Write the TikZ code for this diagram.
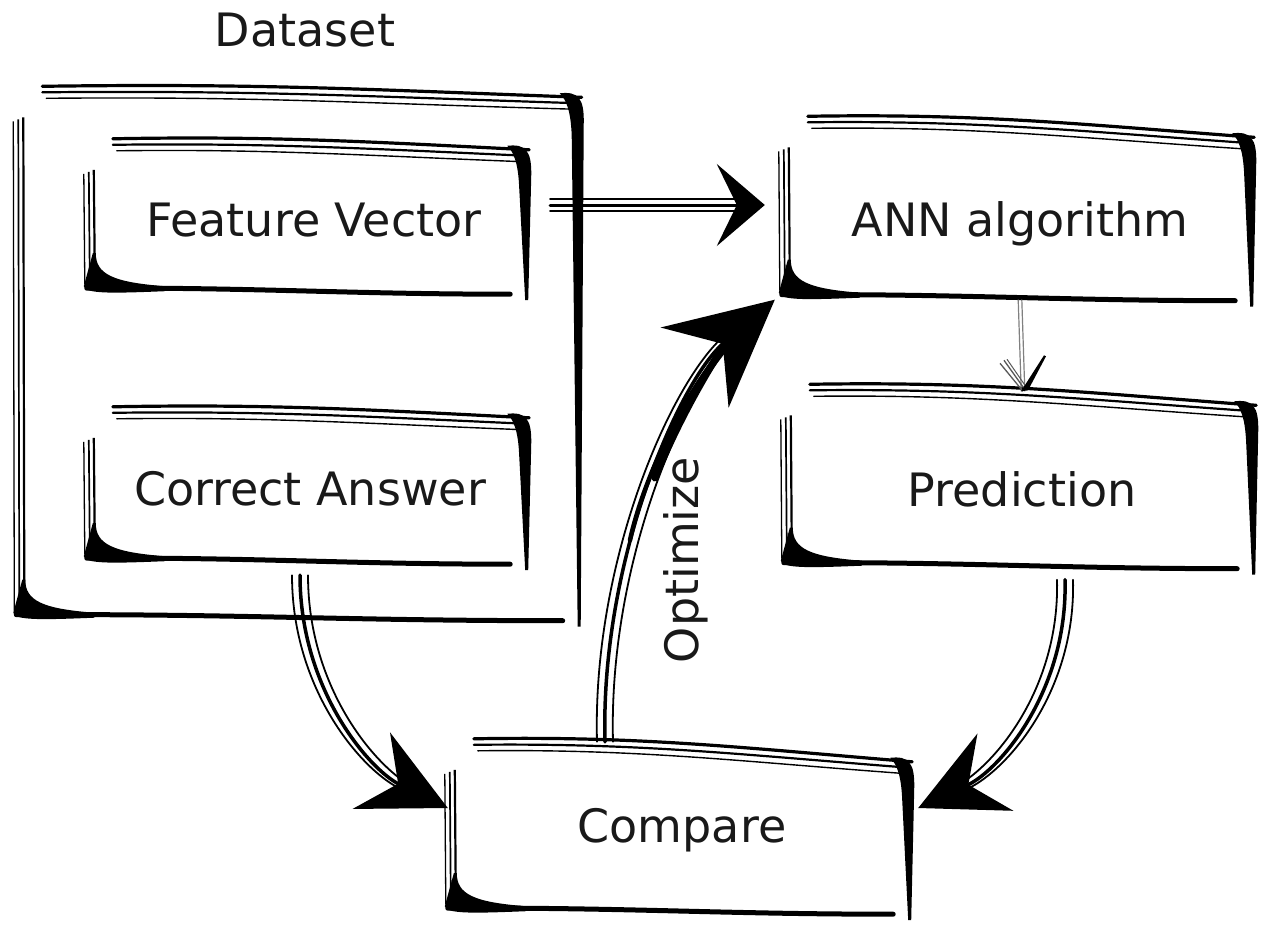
\documentclass[tikz,border=0pt]{standalone}
\usepackage{fontspec}
\setmainfont{DejaVu Sans}
\usetikzlibrary{arrows.meta,calc}

% #1 node name, #2 extra drop of the top strokes at the right end
\newcommand\skbox[2]{%
  % top strokes
  \draw[line width=3.2pt,line cap=round] ($(#1.north west)+(18,-13)$) .. controls ($(#1.north)+(-40,-16)$) and ($(#1.north)+(60,-12+#2/2)$) .. ($(#1.north east)+(4,-6+#2)$);
  \draw[line width=2.2pt,line cap=round] ($(#1.north west)+(18,-7)$) .. controls ($(#1.north)+(-40,-9)$) and ($(#1.north)+(60,-5+#2/2)$) .. ($(#1.north east)+(2,0+#2)$);
  \draw[line width=1.4pt,line cap=round] ($(#1.north west)+(22,-1)$) .. controls ($(#1.north)+(-40,-3)$) and ($(#1.north)+(60,2+#2/2)$) .. ($(#1.north east)+(0,6+#2)$);
  % left strokes
  \draw[line width=1.3pt] ($(#1.north west)+(-11,22)$) -- ($(#1.south west)+(-10,-4)$);
  \draw[line width=1.7pt] ($(#1.north west)+(-6,20)$) -- ($(#1.south west)+(-5,-8)$);
  \draw[line width=2.2pt] ($(#1.north west)+(-1,18)$) -- ($(#1.south west)+(0,-12)$);
  % bottom-left flare
  \fill ($(#1.south west)+(-2,-35)$) -- ($(#1.south west)+(1,-35)$) .. controls ($(#1.south west)+(1,-14)$) and ($(#1.south west)+(18,-6)$) .. ($(#1.south west)+(70,-2)$) -- ($(#1.south west)+(70,3)$) .. controls ($(#1.south west)+(20,5)$) and ($(#1.south west)+(-10,6)$) .. ($(#1.south west)+(-11,-2)$) -- cycle;
  % bottom thick
  \draw[line width=5pt,line cap=round] ($(#1.south west)+(-8,0)$) .. controls ($(#1.south)+(-60,-1)$) and ($(#1.south)+(40,6)$) .. ($(#1.south east)+(-15,6)$);
  % right taper
  \fill ($(#1.north east)+(-18,-10+#2)$) .. controls ($(#1.north east)+(0,-12+#2)$) and ($(#1.north east)+(7,-6+#2)$) .. ($(#1.north east)+(6,22+#2)$) -- ($(#1.south east)+(3,12)$) -- ($(#1.south east)+(0,12)$) -- ($(#1.north east)+(-6,32+#2)$) .. controls ($(#1.north east)+(-7,8+#2)$) and ($(#1.north east)+(-11,-3+#2)$) .. cycle;
}

\begin{document}
\begin{tikzpicture}[x=1pt,y=-1pt,
  lbl/.style={font=\fontsize{46}{55}\selectfont, text=black!90},
  boxnode/.style={lbl, inner sep=0pt},
  shaft/.style={line width=2.2pt, line cap=round},
  bigtip/.style={-{Stealth[length=#1,width=#1,inset=0.35*#1]}},
]
\useasboundingbox (0,0) rectangle (1274,924);
\fill[white] (0,0) rectangle (1274,924);

% nodes
\node[boxnode, minimum width=553pt, minimum height=515pt] (ds) at (301,357) {};
\node[lbl] (dsl) at (305,30) {Dataset};
\node[boxnode, minimum width=430pt, minimum height=136pt] (fv) at (310,220) {\hspace*{8pt}Feature Vector};
\node[boxnode, minimum width=430pt, minimum height=138pt] (ca) at (310,489) {Correct Answer};
\node[boxnode, minimum width=460pt, minimum height=165pt, text height=48pt, text depth=0pt] (ann) at (1020,212) {ANN algorithm};
\node[boxnode, minimum width=460pt, minimum height=165pt, text height=52pt, text depth=0pt] (pred) at (1022,480) {Prediction};
\node[boxnode, minimum width=452pt, minimum height=156pt] (cmp) at (682,830) {Compare};
\node[lbl, rotate=90] (opt) at (686,560) {Optimize};

% sketchy boxes
\skbox{ds}{4}
\skbox{fv}{4}
\skbox{ca}{4}
\skbox{ann}{14}
\skbox{pred}{14}
\skbox{cmp}{16}

% Feature Vector -> ANN
\foreach \s in {-6,6}
  \draw[shaft, line width=2.2pt, transform canvas={yshift=\s pt}, shorten >=30pt]
    ($(fv.east)+(25,-15)$) -- ($(ann.west)+(-25,-7)$);
\draw[shaft, line width=3pt, -{Stealth[length=48pt,width=82pt,inset=20pt]}] ($(fv.east)+(25,-15)$) -- ($(ann.west)+(-25,-7)$);

% ANN -> Prediction
\coordinate (pt) at ($(pred.north)+(1,-6)$);
\foreach \s in {-1.8,1.8}
  \draw[gray, line width=1.2pt, transform canvas={xshift=\s pt}] ($(ann.south)+(0,5)$) -- (pt);
\draw[gray!70!black, line width=1.3pt] ($(pt)+(-23,-28)$) -- (pt);
\draw[gray!70!black, line width=1.3pt] ($(pt)+(-19,-31)$) -- ($(pt)+(1,-3)$);
\draw[gray!70!black, line width=1pt] ($(pt)+(-16,-32)$) -- ($(pt)+(2,-6)$);
\fill ($(pt)+(-2,0)$) -- ($(pt)+(21,-36)$) -- ($(pt)+(23,-35)$) -- ($(pt)+(5,-1)$) -- cycle;

% Correct Answer -> Compare
\foreach \s in {-8,8}
  \draw[shaft, line width=1.8pt, transform canvas={xshift=\s pt}, shorten >=45pt]
    ($(ca.south)+(-10,17)$) .. controls (300,690) and (370,770) .. ($(cmp.west)+(-8,-22)$);
\draw[shaft, line width=3.5pt, bigtip=85pt] ($(ca.south)+(-10,17)$) .. controls (300,690) and (370,770) .. ($(cmp.west)+(-8,-22)$);

% Prediction -> Compare
\foreach \s in {-8,8}
  \draw[shaft, line width=1.8pt, transform canvas={xshift=\s pt}, shorten >=45pt]
    ($(pred.south)+(43,17)$) .. controls (1068,690) and (1000,770) .. ($(cmp.east)+(10,-22)$);
\draw[shaft, line width=3.5pt, bigtip=85pt] ($(pred.south)+(43,17)$) .. controls (1068,690) and (1000,770) .. ($(cmp.east)+(10,-22)$);

% Compare -> ANN (Optimize)
\foreach \s in {-8,8}
  \draw[shaft, line width=1.8pt, transform canvas={xshift=\s pt}, shorten >=55pt]
    ($(cmp.north)+(-77,-10)$) .. controls (600,560) and (680,380) .. ($(ann.south west)+(-15,5)$);
\draw[line width=4.5pt, line cap=round, shorten >=60pt] (630,540) .. controls (648,460) and (700,370) .. ($(ann.south west)+(-15,5)$);
\draw[line width=7pt, line cap=round, shorten >=60pt] (655,478) .. controls (684,405) and (727,340) .. ($(ann.south west)+(-15,5)$);
\draw[shaft, line width=3.5pt, bigtip=105pt] ($(cmp.north)+(-77,-10)$) .. controls (600,560) and (680,380) .. ($(ann.south west)+(-15,5)$);
\end{tikzpicture}
\end{document}
